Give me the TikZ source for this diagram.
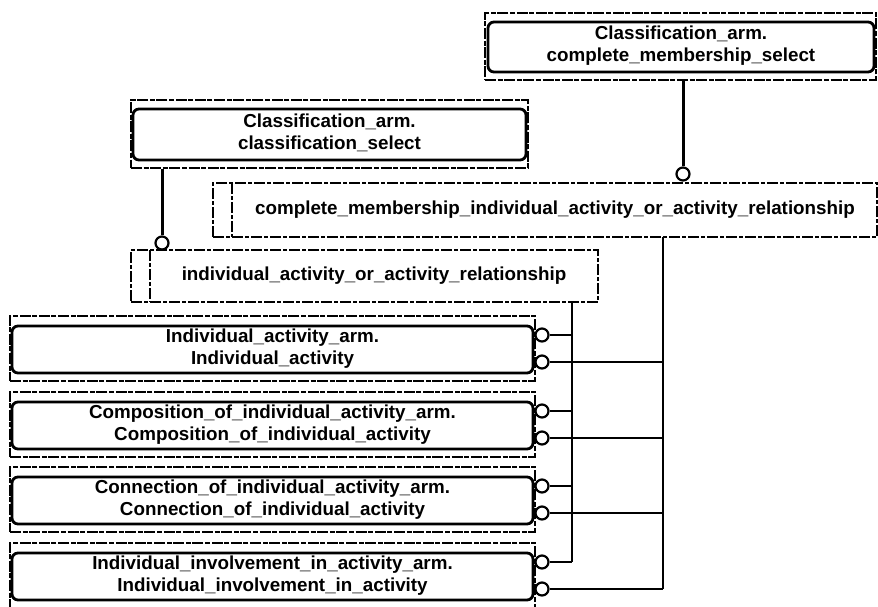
\documentclass[tikz,border=0pt]{standalone}
\usepackage{fontspec}
\setmainfont{Liberation Sans}
\usetikzlibrary{calc}
\begin{document}
\begin{tikzpicture}[x=1pt,y=-1pt,
  lbl/.style={font=\bfseries\fontsize{18.8}{22}\selectfont, align=center, inner sep=0pt},
  outerbox/.style={draw, line width=2.4pt, dash pattern=on 11pt off 1.6pt on 5pt off 1.6pt, rectangle, inner sep=0pt},
  entbox/.style={draw, line width=2.8pt, rounded corners=6pt, rectangle, inner sep=0pt},
  selbox/.style={draw, line width=2pt, dash pattern=on 11pt off 2pt on 4pt off 2pt, rectangle, inner sep=0pt},
  selbar/.style={line width=2pt, dash pattern=on 11pt off 2pt on 4pt off 2pt},
  ring/.style={draw, circle, fill=white, line width=2.2pt, minimum size=13pt, inner sep=0pt},
  trunk/.style={line width=3pt},
  bus/.style={line width=1.3pt},
  tap/.style={line width=1.8pt}]
\useasboundingbox (0,0) rectangle (878,606);

% top entity: Classification_arm.complete_membership_select
\node[outerbox, minimum width=391pt, minimum height=67pt] (cmsO) at (680.5,46.5) {};
\node[entbox, minimum width=386pt, minimum height=50pt] (cmsI) at (681,47) {};
\node[lbl] (cmsT) at (681,46) {Classification\_arm.\\complete\_membership\_select};

% Classification_arm.classification_select
\node[outerbox, minimum width=397pt, minimum height=68pt] (csO) at (329.5,134) {};
\node[entbox, minimum width=393pt, minimum height=51pt] (csI) at (329.5,134.5) {};
\node[lbl] (csT) at (329.5,133) {Classification\_arm.\\classification\_select};

% select: complete_membership_individual_activity_or_activity_relationship
\node[selbox, minimum width=664pt, minimum height=54pt] (cmsel) at (545,210) {};
\coordinate (cmbarT) at (232,183);
\coordinate (cmbarB) at (232,237);
\draw[selbar] (cmbarT) -- (cmbarB);
\node[lbl] (cmselT) at (555,210) {complete\_membership\_individual\_activity\_or\_activity\_relationship};

% select: individual_activity_or_activity_relationship
\node[selbox, minimum width=467pt, minimum height=52pt] (iasel) at (364.5,276) {};
\coordinate (iabarT) at (150,250);
\coordinate (iabarB) at (150,302);
\draw[selbar] (iabarT) -- (iabarB);
\node[lbl] (iaselT) at (374,276) {individual\_activity\_or\_activity\_relationship};

% entity boxes
\foreach \T/\n/\txt in {316/e1/{Individual\_activity\_arm.\\Individual\_activity},
                        392/e2/{Composition\_of\_individual\_activity\_arm.\\Composition\_of\_individual\_activity},
                        467/e3/{Connection\_of\_individual\_activity\_arm.\\Connection\_of\_individual\_activity},
                        543/e4/{Individual\_involvement\_in\_activity\_arm.\\Individual\_involvement\_in\_activity}} {
  \node[outerbox, minimum width=525pt, minimum height=65pt] (\n O) at (272.5,\T+32.5) {};
  \node[entbox, minimum width=521pt, minimum height=47pt] (\n I) at (272.5,\T+33.5) {};
  \node[lbl] (\n T) at (272.5,\T+33) {\txt};
}

% bus lines
\coordinate (busAtop) at (572,302);
\coordinate (busAbot) at (572,562);
\coordinate (busBtop) at (663,237);
\coordinate (busBbot) at (663,589);
\draw[bus] (busAtop) -- (busAbot);
\draw[bus] (busBtop) -- (busBbot);

% rings on entity boxes and taps to the buses
\foreach \T/\n in {316/e1,392/e2,467/e3,543/e4} {
  \node[ring] (\n a) at (542,\T+19) {};
  \node[ring] (\n b) at (542,\T+46) {};
  \draw[tap] (\n a.east) -- (\n a.east -| busAtop);
  \draw[tap] (\n b.east) -- (\n b.east -| busBtop);
}

% trunk connectors to the selects
\node[ring] (r1) at (683,174) {};
\draw[trunk] (cmsO.south -| r1) -- (r1.north);
\node[ring] (r2) at (162,243) {};
\draw[trunk] (csO.south -| r2) -- (r2.north);
\end{tikzpicture}
\end{document}
